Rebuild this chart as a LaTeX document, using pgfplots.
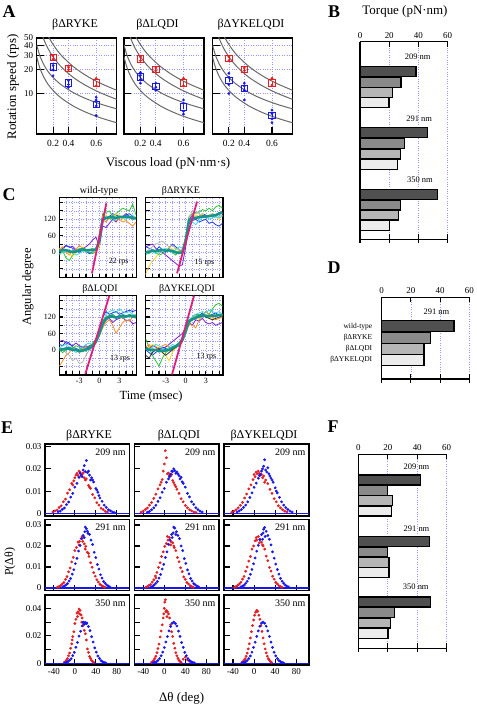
\documentclass[border=0pt]{standalone}
\usepackage{pgfplots}
\pgfplotsset{compat=1.18}
\usepackage{pgfplotstable}
\usepackage{fontspec}
\setmainfont{Liberation Serif}
\newcommand\fs[1]{\fontsize{#1}{#1}\selectfont}
\definecolor{myred}{RGB}{228,30,34}
\definecolor{myblue}{RGB}{24,24,235}
\definecolor{gridc}{RGB}{150,150,255}
\definecolor{curvec}{RGB}{105,105,105}
\definecolor{barA}{RGB}{80,80,80}
\definecolor{barB}{RGB}{138,138,138}
\definecolor{barC}{RGB}{182,182,182}
\definecolor{barD}{RGB}{236,236,236}
\definecolor{cpurple}{RGB}{120,30,210}
\definecolor{cblue}{RGB}{30,60,230}
\definecolor{cgreen}{RGB}{40,200,40}
\definecolor{corange}{RGB}{250,140,30}
\definecolor{cyellow}{RGB}{250,215,30}
\definecolor{ccyan}{RGB}{60,220,230}
\definecolor{cgray}{RGB}{180,180,180}
\definecolor{cdark}{RGB}{50,50,50}
\definecolor{tealc}{RGB}{20,150,140}
\definecolor{pinkl}{RGB}{225,30,120}

\pgfkeys{/pgf/number format/assume math mode=true}
\pgfplotsset{
 every axis/.append style={scale only axis, anchor=north west,
   axis line style={line width=1.3pt}, tick style={line width=1.1pt, black}, tick align=inside},
 panelAstyle/.style={width=80bp, height=96bp, xmin=0.05, xmax=0.83, ymin=3.1, ymax=50,
   xtick={0.21,0.36,0.63}, xticklabels={0.2,0.4,0.6}, ytick={10,20,30,40,50},
   xtick pos=bottom, ytick pos=left, major tick length=7bp,
   grid=major, grid style={dotted, gridc, line width=0.6pt},
   tick label style={font=\fs{9.5}}, xticklabel style={yshift=-3bp},
   yticklabel style={font=\fs{9}, inner ysep=0pt}, yticklabels={}},
 panelBarstyle/.style={xmin=0, xmax=60, xtick={0,20,40,60}, ytick=\empty,
   axis x line*=box, axis y line*=left, xticklabel pos=upper,
   xmajorgrids, grid style={dotted, gridc, line width=0.6pt},
   major tick length=5bp, tick label style={font=\fs{9}}, clip=false},
 panelCstyle/.style={width=77.4bp, xmin=-6, xmax=5.6, ymin=-92, ymax=198,
   xtick={-3,0,3}, minor xtick={-6,-5,-4,-2,-1,1,2,4,5},
   ytick={0,60,120}, minor ytick={-90,-60,-30,30,90,150,180},
   grid=both, grid style={dotted, gridc, line width=0.5pt},
   xtick pos=bottom, ytick pos=left, major tick length=4bp, minor tick length=4bp,
   tick label style={font=\fs{8}}},
 panelEstyle/.style={xmin=-57, xmax=104, xtick={-40,0,40,80}, xtick pos=bottom, ytick pos=left,
   major tick length=6bp, minor tick length=6bp, tick label style={font=\fs{9}},
   scaled y ticks=false, yticklabel style={/pgf/number format/fixed, /pgf/number format/precision=2}},
 rowIstyle/.style={height=72bp, ymin=-0.0012, ymax=0.0312, ytick={0,0.01,0.02,0.03}},
 rowIIstyle/.style={height=71.4bp, ymin=-0.0013, ymax=0.0327, ytick={0,0.01,0.02,0.03}},
 rowIIIstyle/.style={height=70bp, ymin=-0.0012, ymax=0.0497, ytick={0,0.02,0.04}, minor ytick={0.01,0.03}},
 reddots/.style={only marks, mark=*, mark size=1.2bp, myred},
 bluedots/.style={only marks, mark=*, mark size=1.2bp, myblue},
 squaremk/.style={only marks, mark=square, mark size=3.2bp, line width=0.8pt},
 barmk/.style={only marks, mark=|, mark size=2bp, line width=0.8pt},
 barplot/.style={xbar, bar shift=0, draw=black, line width=1.2pt},
 baseline/.style={black, line width=1.3pt, mark=none},
 basetick/.style={black, only marks, mark=|, mark size=4bp, line width=1.1pt},
}

\newcommand\viscurves{%
\addplot[curvec, line width=1pt, smooth] coordinates {(0.16,53.6)(0.18,47.9)(0.2,43.3)(0.25,34.9)(0.3,29.3)(0.4,22.2)(0.5,17.9)(0.6,15.0)(0.7,12.96)(0.83,11.0)};
\addplot[curvec, line width=1pt, smooth] coordinates {(0.11,51.7)(0.12,47.8)(0.13,44.4)(0.16,36.9)(0.2,30.2)(0.25,24.8)(0.3,21.0)(0.4,16.2)(0.5,13.3)(0.6,11.3)(0.7,9.85)(0.83,8.45)};
\addplot[curvec, line width=1pt, smooth] coordinates {(0.05,41.0)(0.08,30.1)(0.12,23.0)(0.16,19.0)(0.2,16.4)(0.25,14.2)(0.3,12.6)(0.4,10.4)(0.5,8.97)(0.6,7.96)(0.7,7.19)(0.83,6.42)};
\addplot[curvec, line width=1pt, smooth] coordinates {(0.05,29.0)(0.08,21.1)(0.12,16.0)(0.16,13.1)(0.2,11.3)(0.25,9.70)(0.3,8.58)(0.4,7.05)(0.5,6.06)(0.6,5.35)(0.7,4.82)(0.83,4.29)};
}

\pgfplotstableread{
x a b c d e f m
-6 5 0 -10 10 -5 15 5
-5.5 15 10 5 20 0 5 8
-5 25 25 -20 0 5 10 8
-4.5 18 20 -30 -10 10 -5 3
-4 22 15 -10 5 0 -15 2
-3.5 10 5 0 10 -10 0 3
-3 5 0 15 25 -5 10 8
-2.5 15 10 5 15 5 20 12
-2 20 5 10 0 0 10 8
-1.5 30 -5 0 10 10 5 8
-1 45 0 -5 5 0 15 10
-0.5 55 10 5 -5 5 0 10
0 20 60 30 70 40 20 40
0.5 95 135 140 120 120 130 120
1 90 125 145 110 130 135 124
1.5 105 130 150 125 125 120 127
2 120 140 130 130 115 125 127
2.5 110 135 140 115 120 140 125
3 125 130 150 120 125 135 128
3.5 130 125 160 110 130 120 128
4 140 135 155 115 120 130 130
4.5 130 140 150 105 125 125 128
5 120 130 175 95 135 120 124
5.5 125 125 135 110 120 130 123
}\tabWT
\pgfplotstableread{
x a b c d e f m
-6 20 20 0 -80 0 -10 0
-5.5 25 15 -5 -50 10 0 2
-5 30 10 10 -30 20 5 5
-4.5 15 5 0 -20 30 -5 5
-4 5 20 -10 0 35 0 7
-3.5 0 10 -5 10 40 10 8
-3 -10 0 5 5 30 15 6
-2.5 -20 15 10 20 20 5 7
-2 -30 30 0 10 25 0 5
-1.5 -40 20 -10 15 15 10 0
-1 -50 10 5 5 10 20 -2
-0.5 -45 0 10 0 5 15 0
0 20 50 60 40 50 40 40
0.5 120 110 130 120 125 120 118
1 135 115 140 125 150 110 122
1.5 125 120 145 135 140 100 125
2 130 110 145 130 140 115 127
2.5 140 115 155 140 130 125 130
3 135 120 150 125 125 130 130
3.5 130 105 160 135 135 120 131
4 140 110 150 140 130 125 133
4.5 135 100 165 130 125 130 135
5 145 95 170 120 130 125 140
5.5 140 105 160 135 135 130 145
}\tabRYKE
\pgfplotstableread{
x a b c d e f m
-6 30 20 -60 10 5 0 0
-5.5 35 15 -40 0 15 -10 2
-5 25 30 -20 -10 20 0 5
-4.5 20 25 -10 -20 10 10 5
-4 15 10 5 -40 0 5 0
-3.5 25 5 0 -30 -10 15 0
-3 15 0 -10 -50 0 10 -5
-2.5 10 10 5 -45 10 0 -3
-2 5 15 10 -20 20 -5 2
-1.5 15 5 0 0 25 10 5
-1 20 10 20 10 15 25 15
-0.5 40 30 30 25 30 40 30
0 60 70 50 55 65 70 60
0.5 90 120 80 85 100 105 95
1 110 140 100 110 130 120 115
1.5 115 130 110 120 140 125 122
2 100 135 90 125 145 130 122
2.5 110 140 60 115 135 120 118
3 115 130 80 120 150 125 122
3.5 120 135 100 130 140 115 125
4 105 140 110 125 135 120 122
4.5 110 145 105 120 140 130 125
5 95 140 120 125 130 125 122
5.5 100 145 115 130 125 120 122
}\tabLQDI
\pgfplotstableread{
x a b c d e f g m
-6 10 0 40 0 10 -20 5 5
-5.5 5 -10 10 10 20 -30 0 0
-5 15 -20 -20 20 5 -10 10 0
-4.5 10 -10 -40 15 0 0 20 0
-4 0 0 -60 5 10 5 15 -5
-3.5 5 10 -30 -5 15 -10 5 -3
-3 10 5 -10 -20 20 -20 0 -2
-2.5 20 0 0 -40 10 -10 10 0
-2 30 10 10 -10 0 0 20 8
-1.5 40 15 5 10 10 10 15 13
-1 50 20 20 20 25 15 25 22
-0.5 60 30 40 30 35 30 45 38
0 80 60 70 60 75 65 75 70
0.5 100 100 110 90 95 100 110 105
1 90 120 115 120 90 110 120 112
1.5 110 130 125 125 80 115 130 118
2 105 125 130 115 110 120 135 122
2.5 115 135 120 130 125 125 140 126
3 100 120 140 125 140 120 135 125
3.5 95 125 130 120 130 115 145 123
4 100 130 150 115 120 110 140 125
4.5 90 135 165 125 110 115 135 125
5 95 125 170 130 115 120 140 128
5.5 100 130 160 125 120 125 130 126
}\tabYKE

\begin{document}
\begin{tikzpicture}
\useasboundingbox (0,0) rectangle (477bp,-708bp);

% ---------------- Panel A ----------------
\begin{semilogyaxis}[panelAstyle, at={(36.7bp,-38bp)}, yticklabels={10,20,30,40,50}]
\viscurves
\addplot[reddots] coordinates {(0.21,27)(0.21,30)(0.36,20)(0.36,21.5)(0.63,12.5)(0.63,15.5)};
\addplot[squaremk, myred] coordinates {(0.21,28.5)(0.36,20.7)(0.63,13.6)};
\addplot[barmk, myred] coordinates {(0.21,28.5)(0.36,20.7)(0.63,13.6)};
\addplot[bluedots] coordinates {(0.21,16.7)(0.21,20)(0.21,22.5)(0.36,12)(0.36,13)(0.36,14.5)(0.63,5.3)(0.63,7)(0.63,8.3)(0.63,9)};
\addplot[squaremk, myblue] coordinates {(0.21,21.7)(0.36,13.6)(0.63,7.3)};
\addplot[barmk, myblue] coordinates {(0.21,21.7)(0.36,13.6)(0.63,7.3)};
\end{semilogyaxis}
\begin{semilogyaxis}[panelAstyle, at={(124bp,-38bp)}]
\viscurves
\addplot[reddots] coordinates {(0.21,26)(0.21,29)(0.36,19.5)(0.36,21)(0.63,12.5)(0.63,15.5)};
\addplot[squaremk, myred] coordinates {(0.21,27.2)(0.36,20)(0.63,13.6)};
\addplot[barmk, myred] coordinates {(0.21,27.2)(0.36,20)(0.63,13.6)};
\addplot[bluedots] coordinates {(0.21,13.5)(0.21,15)(0.21,17)(0.21,18.5)(0.36,11)(0.36,12)(0.36,13.5)(0.63,5.5)(0.63,6)(0.63,7.5)(0.63,8.3)};
\addplot[squaremk, myblue] coordinates {(0.21,16.2)(0.36,12.4)(0.63,6.8)};
\addplot[barmk, myblue] coordinates {(0.21,16.2)(0.36,12.4)(0.63,6.8)};
\end{semilogyaxis}
\begin{semilogyaxis}[panelAstyle, at={(212.5bp,-38bp)}]
\viscurves
\addplot[reddots] coordinates {(0.21,26)(0.21,29)(0.36,19.5)(0.36,21)(0.63,12.8)(0.63,15.5)};
\addplot[squaremk, myred] coordinates {(0.21,27.5)(0.36,20)(0.63,13.6)};
\addplot[barmk, myred] coordinates {(0.21,27.5)(0.36,20)(0.63,13.6)};
\addplot[bluedots] coordinates {(0.21,10)(0.21,13)(0.21,16)(0.21,18)(0.36,8.3)(0.36,11)(0.36,12.5)(0.36,13.5)(0.63,4.3)(0.63,4.8)(0.63,5.6)(0.63,6.2)};
\addplot[squaremk, myblue] coordinates {(0.21,14.7)(0.36,11.6)(0.63,5.3)};
\addplot[barmk, myblue] coordinates {(0.21,14.7)(0.36,11.6)(0.63,5.3)};
\end{semilogyaxis}

% ---------------- Panel B ----------------
\begin{axis}[panelBarstyle, at={(360bp,-41.7bp)}, width=87.7bp, height=197.6bp, ymin=-239.3, ymax=-41.7]
\addplot[barplot, bar width=10, fill=barA] coordinates {(38.3,-71.7)(46.1,-132.7)(53.2,-194.3)};
\addplot[barplot, bar width=10, fill=barB] coordinates {(28.1,-82.2)(30.3,-143.3)(27.6,-205)};
\addplot[barplot, bar width=10, fill=barC] coordinates {(22.1,-92.5)(27.8,-154)(26.2,-215)};
\addplot[barplot, bar width=10, fill=barD] coordinates {(19.8,-102.7)(25.8,-164.3)(20.1,-225.7)};
\addplot[baseline] coordinates {(0,-239.3)(60,-239.3)};
\addplot[basetick] coordinates {(0,-239.3)(20,-239.3)(40,-239.3)(60,-239.3)};
\node[font=\fs{8.5}] at (axis cs:39.5,-56.7) {209 nm};
\node[font=\fs{8.5}] at (axis cs:40.5,-118.3) {291 nm};
\node[font=\fs{8.5}] at (axis cs:41,-180) {350 nm};
\end{axis}

% ---------------- Panel C ----------------
\begin{axis}[panelCstyle, at={(59.3bp,-197.7bp)}, height=80bp, xticklabels={}]
\addplot[cpurple, line width=0.8pt] table[x=x,y=a]{\tabWT};
\addplot[cblue, line width=0.8pt] table[x=x,y=b]{\tabWT};
\addplot[cgreen, line width=0.8pt] table[x=x,y=c]{\tabWT};
\addplot[corange, line width=0.8pt] table[x=x,y=d]{\tabWT};
\addplot[ccyan, line width=0.8pt] table[x=x,y=e]{\tabWT};
\addplot[cyellow, line width=0.8pt] table[x=x,y=f]{\tabWT};
\addplot[tealc, line width=2.6pt] table[x=x,y=m]{\tabWT};
\addplot[pinkl, line width=1.8pt] coordinates {(-1.1,-76)(1.05,178)};
\node[font=\fs{8}] at (axis cs:2.9,-34) {22 rps};
\end{axis}
\begin{axis}[panelCstyle, at={(145.7bp,-197.7bp)}, height=80bp, xticklabels={}, yticklabels={}]
\addplot[cpurple, line width=0.8pt] table[x=x,y=a]{\tabRYKE};
\addplot[cblue, line width=0.8pt] table[x=x,y=b]{\tabRYKE};
\addplot[cgreen, line width=0.8pt] table[x=x,y=c]{\tabRYKE};
\addplot[cyellow, line width=0.8pt] table[x=x,y=d]{\tabRYKE};
\addplot[cgray, line width=0.8pt] table[x=x,y=e]{\tabRYKE};
\addplot[ccyan, line width=0.8pt] table[x=x,y=f]{\tabRYKE};
\addplot[tealc, line width=2.6pt] table[x=x,y=m]{\tabRYKE};
\addplot[pinkl, line width=1.8pt] coordinates {(-1.3,-76)(1.69,184)};
\node[font=\fs{8}] at (axis cs:2.8,-36) {15 rps};
\end{axis}
\begin{axis}[panelCstyle, at={(59.3bp,-295.7bp)}, height=79.3bp]
\addplot[cpurple, line width=0.8pt] table[x=x,y=a]{\tabLQDI};
\addplot[cblue, line width=0.8pt] table[x=x,y=b]{\tabLQDI};
\addplot[corange, line width=0.8pt] table[x=x,y=c]{\tabLQDI};
\addplot[cgray, line width=0.8pt] table[x=x,y=d]{\tabLQDI};
\addplot[ccyan, line width=0.8pt] table[x=x,y=e]{\tabLQDI};
\addplot[cgreen, line width=0.8pt] table[x=x,y=f]{\tabLQDI};
\addplot[tealc, line width=2.6pt] table[x=x,y=m]{\tabLQDI};
\addplot[pinkl, line width=1.8pt] coordinates {(-2.1,-88)(1.5,198)};
\node[font=\fs{8}] at (axis cs:3.1,-33) {13 rps};
\end{axis}
\begin{axis}[panelCstyle, at={(145.7bp,-295.7bp)}, height=79.3bp, yticklabels={}]
\addplot[cpurple, line width=0.8pt] table[x=x,y=a]{\tabYKE};
\addplot[cblue, line width=0.8pt] table[x=x,y=b]{\tabYKE};
\addplot[cgreen, line width=0.8pt] table[x=x,y=c]{\tabYKE};
\addplot[cyellow, line width=0.8pt] table[x=x,y=d]{\tabYKE};
\addplot[corange, line width=0.8pt] table[x=x,y=e]{\tabYKE};
\addplot[cdark, line width=0.8pt] table[x=x,y=f]{\tabYKE};
\addplot[ccyan, line width=0.8pt] table[x=x,y=g]{\tabYKE};
\addplot[tealc, line width=2.6pt] table[x=x,y=m]{\tabYKE};
\addplot[pinkl, line width=1.8pt] coordinates {(-2.05,-90)(1.25,198)};
\node[font=\fs{8}] at (axis cs:3.1,-25) {13 rps};
\end{axis}

% ---------------- Panel D ----------------
\begin{axis}[panelBarstyle, at={(381.7bp,-297.3bp)}, width=87.6bp, height=81.7bp, ymin=-379, ymax=-297.3]
\addplot[barplot, bar width=11, fill=barA] coordinates {(49.5,-326.3)};
\addplot[barplot, bar width=11, fill=barB] coordinates {(33.5,-337.7)};
\addplot[barplot, bar width=11, fill=barC] coordinates {(29,-348.8)};
\addplot[barplot, bar width=11, fill=barD] coordinates {(29,-360)};
\addplot[baseline] coordinates {(0,-379)(60,-379)};
\addplot[basetick] coordinates {(0,-379)(20,-379)(40,-379)(60,-379)};
\node[font=\fs{8.5}] at (axis cs:37.5,-311.7) {291 nm};
\node[font=\fs{7.5}, anchor=east, xshift=-6bp] at (axis cs:0,-326.3) {wild-type};
\node[font=\fs{7.5}, anchor=east, xshift=-6bp] at (axis cs:0,-337.7) {βΔRYKE};
\node[font=\fs{7.5}, anchor=east, xshift=-6bp] at (axis cs:0,-348.8) {βΔLQDI};
\node[font=\fs{7.5}, anchor=east, xshift=-6bp] at (axis cs:0,-360) {βΔYKELQDI};
\end{axis}

% ---------------- Panel E ----------------
\begin{axis}[panelEstyle, rowIstyle, at={(45bp,-444bp)}, width=84.3bp, xticklabels={}]
\addplot[reddots] coordinates {(-42,.0006)(-38,.0011)(-34,.0015)(-30,.0026)(-26,.0034)(-22,.0052)(-18,.0064)(-14,.0091)(-10,.0106)(-6,.0135)(-2,.0146)(2,.0172)(6,.0171)(10,.0185)(14,.0176)(18,.0160)(22,.0155)(26,.0126)(30,.0112)(34,.0085)(38,.0070)(42,.0048)(46,.0037)(50,.0023)(54,.0017)(58,.0009)(62,.0006)(0,.0160)(8,.0190)(12,.0168)(16,.0182)(-4,.0128)(4,.0180)(20,.0150)(28,.0118)};
\addplot[myblue, line width=1.4pt] coordinates {(-57,0)(104,0)};
\addplot[bluedots] coordinates {(-32,.0007)(-28,.0010)(-24,.0018)(-20,.0024)(-16,.0039)(-12,.0051)(-8,.0073)(-4,.0090)(0,.0118)(4,.0135)(8,.0162)(12,.0172)(16,.0195)(18,.0215)(20,.0188)(22,.0238)(24,.0183)(28,.0172)(32,.0160)(36,.0141)(40,.0112)(44,.0095)(48,.0069)(52,.0054)(56,.0037)(60,.0027)(64,.0016)(68,.0011)(72,.0006)(76,.0003)(10,.0180)(14,.0165)(26,.0190)(30,.0150)(34,.0150)(42,.0105)(46,.0080)};
\node[font=\fs{10}, anchor=north east, inner sep=1pt] at (rel axis cs:0.97,0.95) {209 nm};
\end{axis}
\begin{axis}[panelEstyle, rowIstyle, at={(134.3bp,-444bp)}, width=84.7bp, xticklabels={}, yticklabels={}]
\addplot[reddots] coordinates {(-44,.0005)(-40,.0010)(-36,.0017)(-32,.0024)(-28,.0037)(-24,.0049)(-20,.0067)(-16,.0086)(-12,.0110)(-8,.0128)(-4,.0152)(-2,.0190)(0,.0222)(2,.0282)(4,.0250)(6,.0178)(8,.0181)(10,.0170)(12,.0168)(16,.0148)(20,.0128)(24,.0108)(28,.0090)(32,.0066)(36,.0052)(40,.0035)(44,.0025)(48,.0016)(52,.0011)(56,.0006)(60,.0004)(-6,.0140)(14,.0175)(18,.0138)(22,.0120)};
\addplot[myblue, line width=1.4pt] coordinates {(-57,0)(104,0)};
\addplot[bluedots] coordinates {(-32,.0005)(-28,.0009)(-24,.0016)(-20,.0025)(-16,.0036)(-12,.0054)(-8,.0070)(-4,.0095)(0,.0112)(4,.0140)(8,.0155)(12,.0176)(16,.0188)(18,.0200)(20,.0192)(22,.0180)(24,.0186)(28,.0170)(32,.0162)(36,.0135)(40,.0118)(44,.0090)(48,.0074)(52,.0052)(56,.0040)(60,.0025)(64,.0017)(68,.0010)(72,.0006)(10,.0165)(14,.0190)(26,.0178)(30,.0155)(34,.0142)};
\node[font=\fs{10}, anchor=north east, inner sep=1pt] at (rel axis cs:0.97,0.95) {209 nm};
\end{axis}
\begin{axis}[panelEstyle, rowIstyle, at={(224bp,-444bp)}, width=85bp, xticklabels={}, yticklabels={}]
\addplot[reddots] coordinates {(-42,.0005)(-38,.0010)(-34,.0016)(-30,.0025)(-26,.0036)(-22,.0049)(-18,.0069)(-14,.0087)(-10,.0110)(-6,.0128)(-2,.0152)(2,.0165)(4,.0185)(6,.0178)(8,.0190)(10,.0180)(12,.0172)(14,.0176)(18,.0168)(22,.0150)(26,.0134)(30,.0108)(34,.0090)(38,.0066)(42,.0052)(46,.0034)(50,.0025)(54,.0016)(58,.0010)(62,.0006)(0,.0175)(16,.0160)(20,.0140)};
\addplot[myblue, line width=1.4pt] coordinates {(-57,0)(104,0)};
\addplot[bluedots] coordinates {(-32,.0006)(-28,.0011)(-24,.0017)(-20,.0027)(-16,.0037)(-12,.0052)(-8,.0071)(-4,.0092)(0,.0117)(4,.0136)(8,.0158)(12,.0175)(16,.0200)(18,.0212)(20,.0241)(22,.0195)(24,.0186)(28,.0178)(32,.0158)(36,.0140)(40,.0115)(44,.0092)(48,.0072)(52,.0052)(56,.0037)(60,.0026)(64,.0017)(68,.0010)(72,.0006)(10,.0170)(14,.0190)(26,.0205)(30,.0168)(34,.0150)(42,.0100)};
\node[font=\fs{10}, anchor=north east, inner sep=1pt] at (rel axis cs:0.97,0.95) {209 nm};
\end{axis}
\begin{axis}[panelEstyle, rowIIstyle, at={(45bp,-519.3bp)}, width=84.3bp, xticklabels={}]
\addplot[reddots] coordinates {(-33,.0004)(-30,.0007)(-27,.0012)(-24,.0019)(-21,.0026)(-18,.0041)(-15,.0054)(-12,.0077)(-9,.0095)(-6,.0124)(-3,.0146)(0,.0178)(3,.0193)(6,.0218)(9,.0222)(12,.0235)(15,.0222)(18,.0210)(21,.0198)(24,.0170)(27,.0150)(30,.0120)(33,.0099)(36,.0073)(39,.0056)(42,.0039)(45,.0028)(48,.0017)(51,.0012)(54,.0007)(57,.0004)(8,.0205)(14,.0245)(20,.0185)(26,.0165)};
\addplot[myblue, line width=1.4pt] coordinates {(-57,0)(104,0)};
\addplot[bluedots] coordinates {(-23,.0005)(-20,.0009)(-17,.0014)(-14,.0021)(-11,.0033)(-8,.0045)(-5,.0066)(-2,.0087)(1,.0116)(4,.0141)(7,.0176)(10,.0202)(13,.0235)(16,.0250)(19,.0268)(22,.0282)(25,.0260)(28,.0255)(31,.0228)(34,.0207)(37,.0170)(40,.0145)(43,.0112)(46,.0090)(49,.0063)(52,.0047)(55,.0031)(58,.0022)(61,.0014)(64,.0009)(67,.0005)(20,.0290)(24,.0270)(18,.0240)};
\node[font=\fs{10}, anchor=north east, inner sep=1pt] at (rel axis cs:0.97,0.95) {291 nm};
\end{axis}
\begin{axis}[panelEstyle, rowIIstyle, at={(134.3bp,-519.3bp)}, width=84.7bp, xticklabels={}, yticklabels={}]
\addplot[reddots] coordinates {(-35,.0004)(-32,.0007)(-29,.0013)(-26,.0017)(-23,.0028)(-20,.0039)(-17,.0057)(-14,.0074)(-11,.0098)(-8,.0120)(-5,.0150)(-2,.0172)(1,.0198)(4,.0212)(7,.0228)(10,.0240)(13,.0220)(16,.0215)(19,.0192)(22,.0178)(25,.0145)(28,.0125)(31,.0096)(34,.0078)(37,.0053)(40,.0041)(43,.0026)(46,.0019)(49,.0011)(52,.0007)(55,.0004)(6,.0245)(12,.0205)(18,.0200)(-16,.0048)};
\addplot[myblue, line width=1.4pt] coordinates {(-57,0)(104,0)};
\addplot[bluedots] coordinates {(-25,.0005)(-22,.0009)(-19,.0015)(-16,.0022)(-13,.0031)(-10,.0047)(-7,.0064)(-4,.0090)(-1,.0112)(2,.0145)(5,.0172)(8,.0208)(11,.0228)(14,.0255)(17,.0262)(20,.0285)(23,.0268)(26,.0250)(29,.0235)(32,.0200)(35,.0178)(38,.0140)(41,.0117)(44,.0086)(47,.0067)(50,.0045)(53,.0033)(56,.0021)(59,.0015)(62,.0009)(65,.0005)(18,.0290)(22,.0255)(15,.0240)};
\node[font=\fs{10}, anchor=north east, inner sep=1pt] at (rel axis cs:0.97,0.95) {291 nm};
\end{axis}
\begin{axis}[panelEstyle, rowIIstyle, at={(224bp,-519.3bp)}, width=85bp, xticklabels={}, yticklabels={}]
\addplot[reddots] coordinates {(-37,.0004)(-34,.0007)(-31,.0012)(-28,.0019)(-25,.0027)(-22,.0042)(-19,.0055)(-16,.0080)(-13,.0100)(-10,.0128)(-7,.0150)(-4,.0185)(-1,.0200)(2,.0225)(5,.0228)(8,.0245)(11,.0232)(14,.0218)(17,.0200)(20,.0185)(23,.0152)(26,.0130)(29,.0098)(32,.0080)(35,.0056)(38,.0042)(41,.0027)(44,.0019)(47,.0011)(50,.0007)(53,.0004)(4,.0240)(10,.0215)(16,.0205)};
\addplot[myblue, line width=1.4pt] coordinates {(-57,0)(104,0)};
\addplot[bluedots] coordinates {(-25,.0005)(-22,.0009)(-19,.0013)(-16,.0022)(-13,.0032)(-10,.0046)(-7,.0065)(-4,.0088)(-1,.0115)(2,.0143)(5,.0175)(8,.0203)(11,.0230)(14,.0254)(17,.0262)(20,.0288)(23,.0270)(26,.0250)(29,.0232)(32,.0205)(35,.0172)(38,.0142)(41,.0114)(44,.0088)(47,.0066)(50,.0046)(53,.0032)(56,.0022)(59,.0014)(62,.0009)(65,.0005)(18,.0280)(21,.0245)(16,.0232)};
\node[font=\fs{10}, anchor=north east, inner sep=1pt] at (rel axis cs:0.97,0.95) {291 nm};
\end{axis}
\begin{axis}[panelEstyle, rowIIIstyle, at={(45bp,-595bp)}, width=84.3bp]
\addplot[reddots] coordinates {(-20,.0008)(-18,.0013)(-16,.0023)(-14,.0034)(-12,.0055)(-10,.0075)(-8,.0110)(-6,.0142)(-4,.0195)(-2,.0230)(0,.0290)(2,.0320)(4,.0365)(6,.0375)(8,.0395)(10,.0385)(12,.0352)(14,.0330)(16,.0278)(18,.0240)(20,.0215)(22,.0170)(24,.0105)(26,.0080)(28,.0050)(30,.0036)(32,.0021)(34,.0013)(36,.0008)(5,.0340)(9,.0360)(13,.0300)(-5,.0170)};
\addplot[myblue, line width=1.4pt] coordinates {(-57,0)(104,0)};
\addplot[bluedots] coordinates {(-19,.0003)(-16,.0007)(-13,.0012)(-10,.0022)(-7,.0034)(-4,.0056)(-1,.0080)(2,.0117)(5,.0152)(8,.0198)(11,.0233)(14,.0272)(17,.0290)(20,.0298)(23,.0293)(26,.0268)(29,.0238)(32,.0194)(35,.0155)(38,.0113)(41,.0082)(44,.0054)(47,.0036)(50,.0020)(53,.0012)(56,.0007)(59,.0003)(16,.0300)(18,.0285)(22,.0288)};
\node[font=\fs{10}, anchor=north east, inner sep=1pt] at (rel axis cs:0.97,0.95) {350 nm};
\end{axis}
\begin{axis}[panelEstyle, rowIIIstyle, at={(134.3bp,-595bp)}, width=84.7bp, yticklabels={}]
\addplot[reddots] coordinates {(-24,.0008)(-22,.0013)(-20,.0022)(-18,.0035)(-16,.0052)(-14,.0078)(-12,.0108)(-10,.0140)(-8,.0192)(-6,.0235)(-4,.0280)(-2,.0330)(0,.0400)(2,.0462)(4,.0385)(6,.0375)(8,.0360)(10,.0330)(12,.0280)(14,.0230)(16,.0195)(18,.0145)(20,.0110)(22,.0078)(24,.0055)(26,.0036)(28,.0022)(30,.0013)(32,.0008)(1,.0445)(3,.0375)(5,.0340)(-1,.0360)(36,.0030)(40,.0045)(44,.0025)(48,.0015)};
\addplot[myblue, line width=1.4pt] coordinates {(-57,0)(104,0)};
\addplot[bluedots] coordinates {(-21,.0003)(-18,.0007)(-15,.0012)(-12,.0021)(-9,.0035)(-6,.0055)(-3,.0082)(0,.0115)(3,.0155)(6,.0195)(9,.0236)(12,.0268)(15,.0292)(18,.0300)(21,.0290)(24,.0272)(27,.0235)(30,.0196)(33,.0152)(36,.0116)(39,.0080)(42,.0056)(45,.0035)(48,.0021)(51,.0012)(54,.0007)(57,.0003)};
\node[font=\fs{10}, anchor=north east, inner sep=1pt] at (rel axis cs:0.97,0.95) {350 nm};
\end{axis}
\begin{axis}[panelEstyle, rowIIIstyle, at={(224bp,-595bp)}, width=85bp, yticklabels={}]
\addplot[reddots] coordinates {(-23,.0008)(-21,.0013)(-19,.0022)(-17,.0034)(-15,.0052)(-13,.0075)(-11,.0105)(-9,.0142)(-7,.0185)(-5,.0230)(-3,.0275)(-1,.0315)(1,.0350)(3,.0372)(5,.0385)(7,.0378)(9,.0350)(11,.0320)(13,.0275)(15,.0232)(17,.0185)(19,.0142)(21,.0105)(23,.0076)(25,.0052)(27,.0034)(29,.0022)(31,.0013)(33,.0008)};
\addplot[myblue, line width=1.4pt] coordinates {(-57,0)(104,0)};
\addplot[bluedots] coordinates {(-22,.0003)(-19,.0007)(-16,.0012)(-13,.0021)(-10,.0035)(-7,.0054)(-4,.0081)(-1,.0116)(2,.0154)(5,.0196)(8,.0236)(11,.0270)(14,.0292)(17,.0300)(20,.0292)(23,.0270)(26,.0236)(29,.0196)(32,.0154)(35,.0116)(38,.0081)(41,.0055)(44,.0035)(47,.0021)(50,.0012)(53,.0007)(56,.0003)};
\node[font=\fs{10}, anchor=north east, inner sep=1pt] at (rel axis cs:0.97,0.95) {350 nm};
\end{axis}

% ---------------- Panel F ----------------
\begin{axis}[panelBarstyle, at={(358.3bp,-454.3bp)}, width=88.4bp, height=194bp, ymin=-648.3, ymax=-454.3]
\addplot[barplot, bar width=10, fill=barA] coordinates {(42.1,-480)(48.2,-541.7)(49.1,-602)};
\addplot[barplot, bar width=10, fill=barB] coordinates {(19.9,-490.7)(19.9,-552)(24.7,-612.7)};
\addplot[barplot, bar width=10, fill=barC] coordinates {(23.3,-500.8)(20.8,-562.3)(21.7,-623)};
\addplot[barplot, bar width=10, fill=barD] coordinates {(22.6,-511)(20.8,-572.5)(20.1,-633.3)};
\addplot[baseline] coordinates {(0,-648.3)(60,-648.3)};
\addplot[basetick] coordinates {(0,-648.3)(20,-648.3)(40,-648.3)(60,-648.3)};
\node[font=\fs{8.5}] at (axis cs:39.5,-466.7) {209 nm};
\node[font=\fs{8.5}] at (axis cs:39.5,-529) {291 nm};
\node[font=\fs{8.5}] at (axis cs:39,-587) {350 nm};
\end{axis}

% ---------------- Texts ----------------
\node[font=\bfseries\fs{18}] at (9bp,-12bp) {A};
\node[font=\bfseries\fs{18}] at (334bp,-12bp) {B};
\node[font=\bfseries\fs{18}] at (9bp,-195bp) {C};
\node[font=\bfseries\fs{18}] at (334bp,-268bp) {D};
\node[font=\bfseries\fs{18}] at (7bp,-428bp) {E};
\node[font=\bfseries\fs{18}] at (333bp,-427bp) {F};

\node[font=\fs{12}] at (75bp,-25bp) {βΔRYKE};
\node[font=\fs{12}] at (157.5bp,-25bp) {βΔLQDI};
\node[font=\fs{12}] at (251bp,-25bp) {βΔYKELQDI};
\node[font=\fs{13}, rotate=90] at (13bp,-87bp) {Rotation speed (rps)};
\node[font=\fs{13}] at (168bp,-163bp) {Viscous load (pN·nm·s)};
\node[font=\fs{13}] at (405bp,-11.7bp) {Torque (pN·nm)};

\node[font=\fs{10}] at (99bp,-190.7bp) {wild-type};
\node[font=\fs{10}] at (181bp,-190.7bp) {βΔRYKE};
\node[font=\fs{10}] at (100bp,-289.3bp) {βΔLQDI};
\node[font=\fs{10}] at (187bp,-289.3bp) {βΔYKELQDI};
\node[font=\fs{12.5}, rotate=90] at (28bp,-287bp) {Angular degree};
\node[font=\fs{12.5}] at (151bp,-396bp) {Time (msec)};

\node[font=\fs{12}] at (89bp,-436bp) {βΔRYKE};
\node[font=\fs{12}] at (179bp,-436bp) {βΔLQDI};
\node[font=\fs{12}] at (264bp,-436bp) {βΔYKELQDI};
\node[font=\fs{12}, rotate=90] at (10bp,-561.7bp) {P(Δθ)};
\node[font=\fs{13}] at (181.7bp,-698.3bp) {Δθ (deg)};
\end{tikzpicture}
\end{document}
